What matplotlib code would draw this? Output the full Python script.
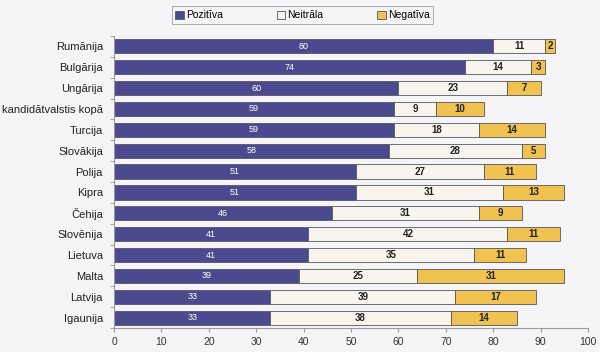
import numpy as np
import matplotlib.pyplot as plt

plt.rcParams['font.family'] = ['Liberation Sans', 'DejaVu Sans']

countries = ['Rumānija', 'Bulgārija', 'Ungārija', 'kandidātvalstis kopā', 'Turcija',
             'Slovākija', 'Polija', 'Kipra', 'Čehija', 'Slovēnija', 'Lietuva',
             'Malta', 'Latvija', 'Igaunija']
pozitiva = [80, 74, 60, 59, 59, 58, 51, 51, 46, 41, 41, 39, 33, 33]
neitrala = [11, 14, 23, 9, 18, 28, 27, 31, 31, 42, 35, 25, 39, 38]
negativa = [2, 3, 7, 10, 14, 5, 11, 13, 9, 11, 11, 31, 17, 14]

c_poz = '#4b4a8e'
c_nei = '#f8f5ee'
c_neg = '#f0c24f'
bg = '#f5f5f7'

fig = plt.figure(figsize=(6, 3.52), dpi=100, facecolor=bg)
ax = fig.add_axes([0.19, 0.068, 0.79, 0.83], facecolor=bg)

y = np.arange(len(countries))
poz = np.array(pozitiva)
nei = np.array(neitrala)
neg = np.array(negativa)
h = 0.68

b1 = ax.barh(y, poz, height=h, color=c_poz, edgecolor='#55555f', linewidth=0.6, label='Pozitīva')
b2 = ax.barh(y, nei, left=poz, height=h, color=c_nei, edgecolor='#55555f', linewidth=0.6, label='Neitrāla')
b3 = ax.barh(y, neg, left=poz + nei, height=h, color=c_neg, edgecolor='#55555f', linewidth=0.6, label='Negatīva')

for i in range(len(countries)):
    ax.text(poz[i] / 2, y[i], str(poz[i]), ha='center', va='center', fontsize=6.5, color='white')
    ax.text(poz[i] + nei[i] / 2, y[i], str(nei[i]), ha='center', va='center', fontsize=7,
            color='#222222', fontweight='bold')
    ax.text(poz[i] + nei[i] + neg[i] / 2, y[i], str(neg[i]), ha='center', va='center', fontsize=7,
            color='#222222', fontweight='bold')

ax.set_xlim(0, 100)
ax.set_ylim(len(countries) - 0.5, -0.5)
ax.set_xticks(range(0, 101, 10))
ax.set_yticks(y)
ax.set_yticklabels(countries)
ax.tick_params(axis='y', length=0, labelsize=8, colors='#222222', pad=8)
ax.tick_params(axis='x', length=3, labelsize=7.5, colors='#333333', color='#999999')
ax.set_yticks(np.arange(-0.5, len(countries), 1), minor=True)
ax.tick_params(axis='y', which='minor', length=3, color='#999999')
for s in ['top', 'right']:
    ax.spines[s].set_visible(False)
ax.spines['left'].set_color('#999999')
ax.spines['bottom'].set_color('#999999')

leg = fig.legend(handles=[b1, b2, b3], loc='center', bbox_to_anchor=(0.504, 0.957),
                 ncol=3, fontsize=7.5, frameon=True, fancybox=False, edgecolor='#888888',
                 handlelength=0.8, handleheight=0.8, columnspacing=5.2, handletextpad=0.2,
                 borderpad=0.35)
leg.get_frame().set_linewidth(0.6)
leg.get_frame().set_facecolor(bg)

fig.savefig('out.png', dpi=100, facecolor=bg)
